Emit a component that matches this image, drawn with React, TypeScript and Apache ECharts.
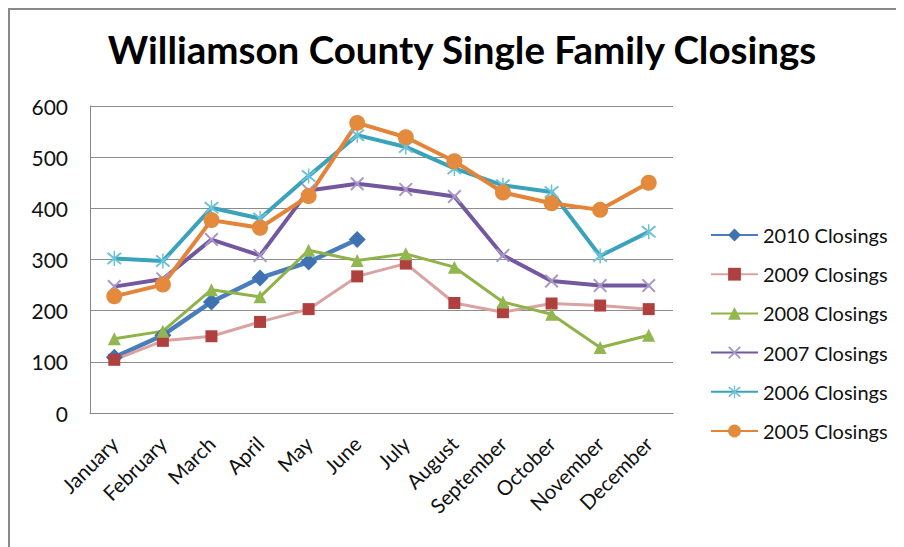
import React, { useEffect, useRef } from "react";
import * as echarts from "echarts";

const months = ["January", "February", "March", "April", "May", "June", "July", "August", "September", "October", "November", "December"];
const yTicks = [0, 100, 200, 300, 400, 500, 600];
const s2010 = [109, 152, 217, 264, 295, 339];
const s2009 = [104, 141, 150, 178, 203, 267, 292, 215, 197, 214, 210, 203];
const s2008 = [145, 160, 241, 227, 318, 298, 311, 285, 217, 193, 128, 152];
const s2007 = [247, 262, 339, 308, 435, 448, 437, 423, 308, 258, 249, 249];
const s2006 = [302, 297, 401, 380, 463, 543, 520, 478, 445, 432, 307, 354];
const s2005 = [228, 251, 377, 362, 424, 567, 539, 492, 431, 410, 397, 450];

const FONT = "Lato, 'Open Sans', sans-serif";
const X_PATH = "path://M0,1 L1,0 L5,4 L9,0 L10,1 L6,5 L10,9 L9,10 L5,6 L1,10 L0,9 L4,5 Z";
const STAR_PATH = "path://M0,1 L1,0 L5,4 L9,0 L10,1 L6,5 L10,9 L9,10 L5,6 L1,10 L0,9 L4,5 Z M4.5,-1 L5.5,-1 L5.5,11 L4.5,11 Z";

export default function App() {
  const ref = useRef<HTMLDivElement>(null);
  useEffect(() => {
    if (!ref.current) return;
    const chart = echarts.init(ref.current, null, { renderer: "svg" });
    const mk = (name: string, data: number[], lineColor: string, lineWidth: number, symbol: string, symbolSize: number, markColor: string) => ({
      name,
      type: "line",
      data,
      symbol,
      symbolSize,
      showAllSymbol: true,
      lineStyle: { color: lineColor, width: lineWidth },
      itemStyle: { color: markColor, borderWidth: 0 },
      emphasis: { disabled: true },
    });
    chart.setOption({
      animation: false,
      backgroundColor: "#ffffff",
      title: {
        text: "Williamson County Single Family Closings",
        left: 449,
        top: 16,
        textAlign: "center",
        textStyle: { fontFamily: FONT, fontSize: 38.5, fontWeight: "bold", color: "#000" },
      },
      graphic: [
        { type: "line", shape: { x1: 1, y1: 0, x2: 1, y2: 539 }, style: { stroke: "#8a8a8a", lineWidth: 2 } },
        { type: "line", shape: { x1: 0, y1: 1, x2: 896, y2: 1 }, style: { stroke: "#8a8a8a", lineWidth: 2 } },
      ],
      legend: {
        orient: "vertical",
        left: 697,
        top: 212,
        itemWidth: 47,
        itemHeight: 16,
        itemGap: 19.2,
        data: ["2010 Closings", "2009 Closings", "2008 Closings", "2007 Closings", "2006 Closings", "2005 Closings"],
        textStyle: { fontFamily: FONT, fontSize: 20, color: "#111", lineHeight: 20 },
      },
      grid: { left: 82, top: 98, right: 231, bottom: 134, containLabel: false },
      xAxis: {
        type: "category",
        data: months,
        boundaryGap: true,
        axisLine: { lineStyle: { color: "#868686", width: 1 } },
        axisTick: { show: false },
        axisLabel: { rotate: 45, margin: 27, interval: 0, fontFamily: FONT, fontSize: 20.5, color: "#111" },
      },
      yAxis: {
        type: "value",
        min: yTicks[0],
        max: yTicks[yTicks.length - 1],
        interval: 100,
        axisLine: { show: true, lineStyle: { color: "#868686", width: 1 } },
        axisTick: { show: false },
        splitLine: { lineStyle: { color: "#8c8c8c", width: 1 } },
        axisLabel: { margin: 22, fontFamily: FONT, fontSize: 21, color: "#111" },
      },
      series: [
        mk("2010 Closings", s2010, "#4a7ebb", 4.5, "diamond", 17, "#3f72b0"),
        mk("2009 Closings", s2009, "#d9a3a2", 3, "rect", 12, "#b0403e"),
        mk("2008 Closings", s2008, "#8fb348", 3, "triangle", 13, "#92b650"),
        mk("2007 Closings", s2007, "#7358a0", 4, X_PATH, 14, "#a896c8"),
        mk("2006 Closings", s2006, "#3aa3bb", 4, STAR_PATH, 15, "#6cc2d6"),
        mk("2005 Closings", s2005, "#e48438", 4, "circle", 16, "#e38a3c"),
      ],
    });
    return () => chart.dispose();
  }, []);
  return <div ref={ref} style={{ width: 896, height: 539 }} />;
}
